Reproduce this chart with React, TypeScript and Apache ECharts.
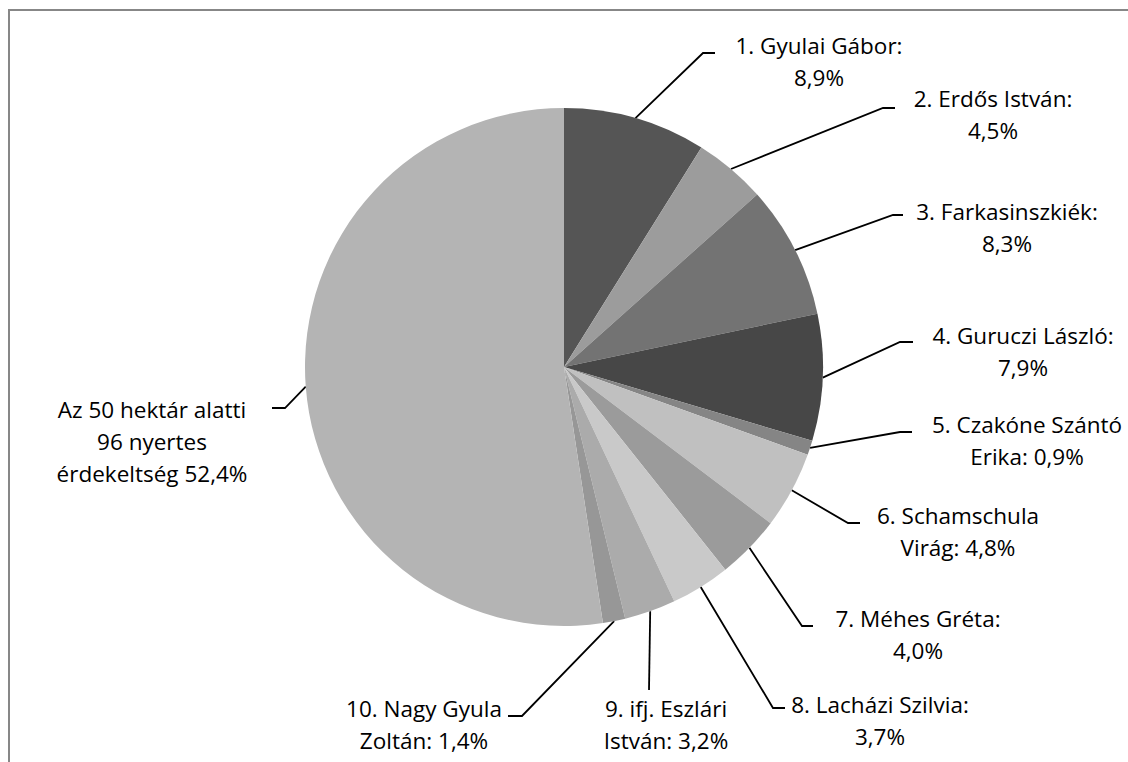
import React, { useEffect, useRef } from "react";
import * as echarts from "echarts";

// Data
const CATEGORIES = [
  "1. Gyulai Gábor",
  "2. Erdős István",
  "3. Farkasinszkiék",
  "4. Guruczi László",
  "5. Czakóne Szántó Erika",
  "6. Schamschula Virág",
  "7. Méhes Gréta",
  "8. Lacházi Szilvia",
  "9. ifj. Eszlári István",
  "10. Nagy Gyula Zoltán",
  "Az 50 hektár alatti 96 nyertes érdekeltség",
];
const VALUES = [8.9, 4.5, 8.3, 7.9, 0.9, 4.8, 4.0, 3.7, 3.2, 1.4, 52.4];
const LABEL_TEMPLATES = [
  "1. Gyulai Gábor:\n{v}",
  "2. Erdős István:\n{v}",
  "3. Farkasinszkiék:\n{v}",
  "4. Guruczi László:\n{v}",
  "5. Czakóne Szántó\nErika: {v}",
  "6. Schamschula\nVirág: {v}",
  "7. Méhes Gréta:\n{v}",
  "8. Lacházi Szilvia:\n{v}",
  "9. ifj. Eszlári\nIstván: {v}",
  "10. Nagy Gyula\nZoltán: {v}",
  "Az 50 hektár alatti\n96 nyertes\nérdekeltség {v}",
];

// Styles / layout
const COLORS = [
  "#555555",
  "#9c9c9c",
  "#737373",
  "#474747",
  "#858585",
  "#c0c0c0",
  "#9b9b9b",
  "#c9c9c9",
  "#ababab",
  "#979797",
  "#b4b4b4",
];
// label block centres
const LABEL_CENTER: [number, number][] = [
  [819, 61],
  [993, 114],
  [1007, 227],
  [1023, 351],
  [1027, 440],
  [958, 531],
  [918, 634],
  [880, 720],
  [666, 724],
  [424, 724],
  [152, 441],
];
// leader line elbow and end points
const LINE_ELBOW: [number, number][] = [
  [703, 53],
  [883, 108],
  [893, 215],
  [900, 342],
  [900, 432],
  [848, 523],
  [802, 626],
  [773, 708],
  [649, 690],
  [522, 716],
  [285, 408],
];
const LINE_END: [number, number][] = [
  [715, 53],
  [895, 108],
  [903, 215],
  [913, 342],
  [912, 432],
  [860, 523],
  [813, 626],
  [785, 708],
  [649, 690],
  [508, 716],
  [272, 408],
];

const fmt = (v: number) => v.toFixed(1).replace(".", ",") + "%";

export default function App() {
  const ref = useRef<HTMLDivElement>(null);
  useEffect(() => {
    if (!ref.current) return;
    const chart = echarts.init(ref.current, null, { renderer: "svg" });
    const data = CATEGORIES.map((name, i) => ({
      name,
      value: VALUES[i],
      itemStyle: { color: COLORS[i] },
    }));
    chart.setOption({
      animation: false,
      backgroundColor: "#ffffff",
      graphic: [
        {
          type: "rect",
          shape: { x: 9, y: 10, width: 1400, height: 1000 },
          style: { fill: "none", stroke: "#878787", lineWidth: 2 },
          silent: true,
        },
      ],
      series: [
        {
          type: "pie",
          center: [564, 367],
          radius: 259,
          startAngle: 90,
          clockwise: true,
          avoidLabelOverlap: false,
          data,
          itemStyle: { borderWidth: 0 },
          label: {
            show: true,
            position: "outside",
            color: "#000000",
            fontFamily: "'Open Sans', 'Noto Sans', sans-serif",
            fontSize: 22.5,
            lineHeight: 32,
            align: "center",
            formatter: (p: any) =>
              LABEL_TEMPLATES[p.dataIndex].replace("{v}", fmt(p.value)),
          },
          labelLine: {
            show: true,
            length: 20,
            length2: 12,
            lineStyle: { color: "#000000", width: 1.8 },
          },
          labelLayout: (params: any) => {
            const i = params.dataIndex;
            const pts = params.labelLinePoints;
            const start = pts && pts[0] ? pts[0] : LINE_ELBOW[i];
            return {
              x: LABEL_CENTER[i][0],
              y: LABEL_CENTER[i][1],
              align: "center",
              verticalAlign: "middle",
              labelLinePoints: [start, LINE_ELBOW[i], LINE_END[i]],
            };
          },
          emphasis: { disabled: true },
        },
      ],
    });
    return () => chart.dispose();
  }, []);
  return (
    <div
      ref={ref}
      style={{ position: "absolute", left: 0, top: 0, width: 1128, height: 762 }}
    />
  );
}
